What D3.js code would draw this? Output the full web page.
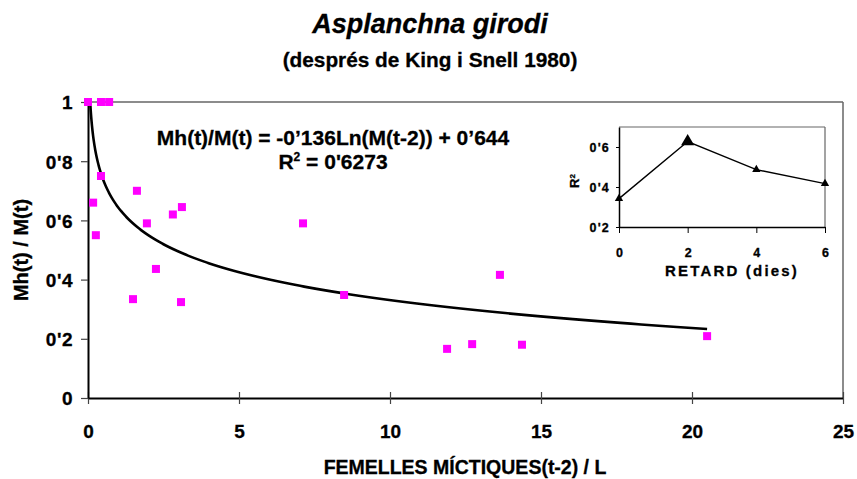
<!DOCTYPE html>
<html>
<head>
<meta charset="utf-8">
<script src="https://cdn.jsdelivr.net/npm/d3@7"></script>
<style>
  html, body { margin: 0; padding: 0; background: #fff; }
  svg { display: block; }
  text { font-family: "Liberation Sans", Arial, Helvetica, sans-serif; font-weight: bold; fill: #000; stroke: #000; stroke-width: 0.3px; }
</style>
</head>
<body>
<svg id="chart" width="857" height="479"></svg>
<script>
// Mictic females (t-2) per litre vs. proportion of mictic females producing males
const femelles = [0, 0.43, 0.70, 0.43, 0.17, 0.26, 1.62, 1.95, 2.81, 3.11, 2.25, 1.49, 3.08, 7.12, 8.48, 13.64, 11.89, 12.72, 14.37, 20.5];
const ratio    = [1, 1, 1, 0.75, 0.66, 0.55, 0.70, 0.59, 0.62, 0.645, 0.436, 0.334, 0.324, 0.59, 0.348, 0.416, 0.166, 0.182, 0.18, 0.209];

// Logarithmic fit: y = a·ln(x) + b
const fitA = -0.136;
const fitB = 0.644;

// Main axes ticks
const xTicks = [0, 5, 10, 15, 20, 25];
const yTicks = [0, 0.2, 0.4, 0.6, 0.8, 1];

// Inset: R² of the fit against the time lag (days)
const retard = [0, 2, 4, 6];
const r2     = [0.342, 0.6273, 0.487, 0.417];
const insetXTicks = [0, 2, 4, 6];
const insetYTicks = [0.2, 0.4, 0.6];

// Decimal comma written as an apostrophe
const fmtDec = v => (v === 0 || v === 1) ? String(v) : d3.format(".1f")(v).replace(".", "'");
const fmtInt = d3.format("d");

const svg = d3.select("#chart");

// Titles
svg.append("text").attr("x", 430).attr("y", 33).attr("text-anchor", "middle")
  .style("font-size", "27px").style("font-style", "italic").text("Asplanchna girodi");
svg.append("text").attr("x", 430).attr("y", 67).attr("text-anchor", "middle")
  .style("font-size", "20.8px").text("(després de King i Snell 1980)");

// Main plot
const x = d3.scaleLinear().domain([0, 25]).range([88, 843]);
const y = d3.scaleLinear().domain([0, 1]).range([398, 102]);

// Top and right frame lines
svg.append("line").attr("x1", x(0)).attr("x2", x(25)).attr("y1", y(1)).attr("y2", y(1))
  .attr("stroke", "#666").attr("stroke-width", 1.5);
svg.append("line").attr("x1", x(25)).attr("x2", x(25)).attr("y1", y(1)).attr("y2", y(0))
  .attr("stroke", "#666").attr("stroke-width", 1.5);

const tickFont = sel => sel.style("font-family", "Liberation Sans, Arial, sans-serif").style("font-weight", "bold");

// X axis (ticks crossing the axis line)
const xAxis = svg.append("g").attr("transform", `translate(0,${y(0)})`)
  .call(d3.axisBottom(x).tickValues(xTicks).tickFormat(fmtInt).tickSize(6).tickSizeOuter(0));
xAxis.select(".domain").attr("stroke", "#000").attr("stroke-width", 2);
xAxis.selectAll(".tick line").attr("y1", -6).attr("y2", 6).attr("stroke", "#444").attr("stroke-width", 1.2);
xAxis.selectAll(".tick text").attr("y", 40).attr("dy", null)
  .style("font-size", "19px").call(tickFont);

// Y axis
const yAxis = svg.append("g").attr("transform", `translate(${x(0)},0)`)
  .call(d3.axisLeft(y).tickValues(yTicks).tickFormat(fmtDec).tickSize(7).tickSizeOuter(0));
yAxis.select(".domain").attr("stroke", "#000").attr("stroke-width", 2);
yAxis.selectAll(".tick line").attr("stroke", "#444").attr("stroke-width", 1.2);
yAxis.selectAll(".tick text").attr("x", -15).attr("dy", "0.36em")
  .style("font-size", "19px").style("letter-spacing", "0.5px").call(tickFont);

// Axis titles
svg.append("text").attr("x", 465).attr("y", 474).attr("text-anchor", "middle")
  .style("font-size", "19.5px").text("FEMELLES MÍCTIQUES(t-2) / L");
svg.append("text").attr("transform", "translate(28,250) rotate(-90)").attr("text-anchor", "middle")
  .style("font-size", "20px").text("Mh(t) / M(t)");

// Fitted curve, from where it reaches 1 up to the last observation
const xStart = Math.exp((1 - fitB) / fitA);
const xEnd = d3.max(femelles);
const curvePts = d3.range(0, 301).map(i => {
  const t = i / 300;
  const xv = xStart * Math.pow(xEnd / xStart, t);
  return [xv, fitA * Math.log(xv) + fitB];
});
svg.append("path")
  .attr("d", d3.line().x(d => x(d[0])).y(d => y(d[1]))(curvePts))
  .attr("fill", "none").attr("stroke", "#000").attr("stroke-width", 2.6);

// Observations
const sq = 8;
svg.append("g").selectAll("rect").data(femelles.map((f, i) => [f, ratio[i]]))
  .join("rect")
  .attr("x", d => x(d[0]) - sq / 2).attr("y", d => y(d[1]) - sq / 2)
  .attr("width", sq).attr("height", sq).attr("fill", "#ff00ff");

// Fit equation
svg.append("text").attr("x", 333).attr("y", 145).attr("text-anchor", "middle")
  .style("font-size", "21px").text("Mh(t)/M(t) = -0’136Ln(M(t-2)) + 0’644");
const r2Label = svg.append("text").attr("x", 333).attr("y", 169).attr("text-anchor", "middle")
  .style("font-size", "21px");
r2Label.append("tspan").text("R");
r2Label.append("tspan").attr("dy", -8).style("font-size", "12px").text("2");
r2Label.append("tspan").attr("dy", 8).text(" = 0'6273");

// Inset chart
const ix = d3.scaleLinear().domain([0, 6]).range([619, 825]);
const iy = d3.scaleLinear().domain([0.2, 0.7]).range([227, 127]);

svg.append("rect").attr("x", ix(0)).attr("y", iy(0.7))
  .attr("width", ix(6) - ix(0)).attr("height", iy(0.2) - iy(0.7)).attr("fill", "#fff");
svg.append("line").attr("x1", ix(0)).attr("x2", ix(6)).attr("y1", iy(0.7)).attr("y2", iy(0.7))
  .attr("stroke", "#666").attr("stroke-width", 1.2);
svg.append("line").attr("x1", ix(6)).attr("x2", ix(6)).attr("y1", iy(0.7)).attr("y2", iy(0.2))
  .attr("stroke", "#666").attr("stroke-width", 1.2);

const ixAxis = svg.append("g").attr("transform", `translate(0,${iy(0.2)})`)
  .call(d3.axisBottom(ix).tickValues(insetXTicks).tickFormat(fmtInt).tickSize(6).tickSizeOuter(0));
ixAxis.select(".domain").attr("stroke", "#000").attr("stroke-width", 1.5);
ixAxis.selectAll(".tick line").attr("stroke", "#000").attr("stroke-width", 1);
ixAxis.selectAll(".tick text").attr("y", 30).attr("dy", null)
  .style("font-size", "12.5px").call(tickFont);

const iyAxis = svg.append("g").attr("transform", `translate(${ix(0)},0)`)
  .call(d3.axisLeft(iy).tickValues(insetYTicks).tickFormat(fmtDec).tickSize(3).tickSizeOuter(0));
iyAxis.select(".domain").attr("stroke", "#000").attr("stroke-width", 1.5);
iyAxis.selectAll(".tick line").attr("stroke", "#000").attr("stroke-width", 1);
iyAxis.selectAll(".tick text").attr("x", -9).attr("dy", "0.36em").style("letter-spacing", "1.2px")
  .style("font-size", "12.5px").call(tickFont);

svg.append("text").attr("x", 732).attr("y", 276).attr("text-anchor", "middle")
  .style("font-size", "15px").style("letter-spacing", "2.2px").text("RETARD (dies)");
const r2Axis = svg.append("text").attr("transform", "translate(579,181) rotate(-90)").attr("text-anchor", "middle")
  .style("font-size", "13px");
r2Axis.append("tspan").text("R");
r2Axis.append("tspan").attr("dy", -4).style("font-size", "8px").text("2");

const insetPts = retard.map((d, i) => [d, r2[i]]);
svg.append("path")
  .attr("d", d3.line().x(d => ix(d[0])).y(d => iy(d[1]))(insetPts))
  .attr("fill", "none").attr("stroke", "#000").attr("stroke-width", 1.4);

// Triangle markers; the chosen lag (2 days) is drawn larger
const r2Best = d3.max(r2);
svg.append("g").selectAll("path").data(insetPts).join("path")
  .attr("transform", d => `translate(${ix(d[0])},${iy(d[1])})`)
  .attr("d", d => d3.symbol(d3.symbolTriangle, d[1] === r2Best ? 75 : 30)())
  .attr("fill", "#000");
</script>
</body>
</html>
